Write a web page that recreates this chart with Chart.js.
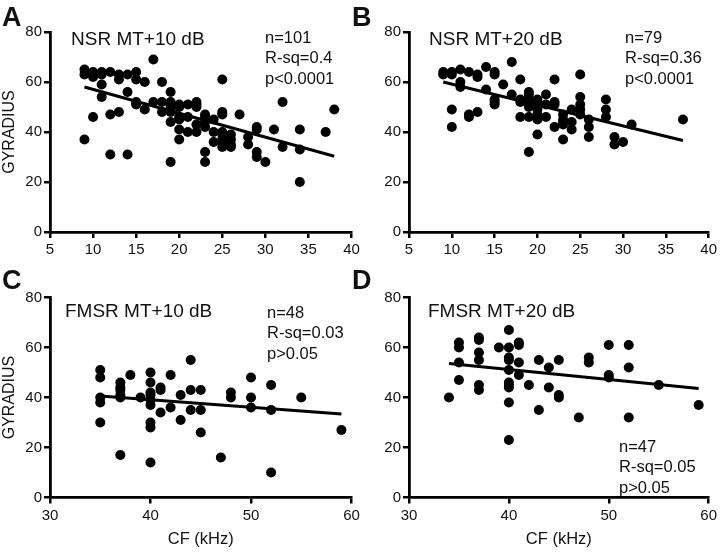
<!DOCTYPE html>
<html>
<head>
<meta charset="utf-8">
<script src="https://cdn.jsdelivr.net/npm/chart.js@4.4.1/dist/chart.umd.min.js"></script>
<style>
  body { margin: 0; background: #fff; }
  #wrap { position: relative; width: 720px; height: 555px; }
  #wrap canvas { position: absolute; left: 0; top: 0; }
</style>
</head>
<body>
<div id="wrap">
  <canvas id="panelA" width="720" height="555"></canvas>
  <canvas id="panelB" width="720" height="555"></canvas>
  <canvas id="panelC" width="720" height="555"></canvas>
  <canvas id="panelD" width="720" height="555"></canvas>
</div>
<script>
// tick values
const yTicks = [0, 20, 40, 60, 80];
const xTicksNSR = [5, 10, 15, 20, 25, 30, 35, 40];
const xTicksFMSR = [30, 40, 50, 60];

// NSR MT+10 dB  [CF kHz, GYRADIUS]
const nsr10 = [
  [9,65],[9,63],[9,37],[10,64],[10,62],[10,46],[11,64],[11,63],[11,59],[11,54],
  [12,64],[12,47],[12,31],[13,63],[13,61],[13,48],[14,63],[14,56],[14,31],
  [15,64],[15,61],[15,52],[15,51],[16,60],[16,49],[17,69],[17,52],
  [18,60],[18,52],[18,48],[19,56],[19,52],[19,50],[19,48],[19,44],[19,28],
  [20,51],[20,50],[20,46],[20,45],[20,41],[20,37],[21,51],[21,46],[21,40],
  [22,52],[22,51],[22,50],[22,43],[22,40],[23,47],[23,46],[23,44],[23,42],[23,32],[23,28],
  [24,45],[24,40],[24,36],[25,61],[25,48],[25,47],[25,40],[25,39],[25,37],[25,36],[25,34],
  [26,39],[26,37],[26,35],[26,34],[27,47],[28,38],[28,35],[29,42],[29,41],[29,32],[29,30],
  [30,28],[31,41],[32,52],[32,34],[34,41],[34,33],[34,20],[37,40],[38,49]
];
const nsr10Fit = [[9, 58], [38, 30.3]];

// NSR MT+20 dB
const nsr20 = [
  [9,64],[9,63],[10,64],[10,63],[10,49],[10,42],[11,65],[11,60],[11,58],
  [12,64],[12,47],[12,46],[13,63],[13,62],[13,48],[14,66],[14,57],
  [15,64],[15,63],[15,53],[15,52],[15,51],[16,59],[17,68],[17,55],
  [18,61],[18,53],[18,52],[18,46],[19,56],[19,55],[19,53],[19,51],[19,50],[19,46],[19,32],
  [20,53],[20,52],[20,49],[20,47],[20,45],[20,39],[21,55],[21,51],[21,46],
  [22,61],[22,52],[22,51],[22,42],[23,47],[23,45],[23,44],[23,43],[23,37],
  [24,49],[24,44],[24,41],[25,63],[25,54],[25,51],[25,49],[25,47],
  [26,45],[26,42],[26,38],[28,53],[28,49],[28,46],[29,38],[29,35],[30,36],[31,43],[37,45]
];
const nsr20Fit = [[9, 60], [37, 36.6]];

// FMSR MT+10 dB
const fmsr10 = [
  [35,51],[35,48],[35,40],[35,38],[35,30],[37,46],[37,44],[37,43],[37,41],[37,40],[37,17],
  [38,49],[39,40],[40,50],[40,46],[40,42],[40,41],[40,39],[40,37],[40,30],[40,28],[40,14],
  [41,44],[41,43],[41,34],[42,49],[42,36],[43,41],[43,31],[44,55],[44,43],[44,35],
  [45,43],[45,35],[45,26],[47,16],[48,42],[48,40],[50,48],[50,40],[50,36],
  [52,45],[52,35],[52,10],[55,40],[59,27]
];
const fmsr10Fit = [[35, 40.6], [59, 33.4]];

// FMSR MT+20 dB
const fmsr20 = [
  [34,40],[35,62],[35,60],[35,54],[35,47],[37,64],[37,63],[37,58],[37,55],[37,45],[37,43],
  [39,60],[40,67],[40,60],[40,56],[40,55],[40,51],[40,46],[40,45],[40,44],[40,38],[40,23],
  [41,62],[41,61],[41,54],[41,49],[42,45],[43,55],[43,35],[44,52],[44,44],
  [45,55],[45,41],[45,40],[47,32],[48,56],[48,54],[50,61],[50,49],[50,48],
  [52,61],[52,52],[52,32],[55,45],[59,37]
];
const fmsr20Fit = [[34, 53.6], [59, 43.6]];

const FONT = "'Liberation Sans', Arial, sans-serif";
const INK = '#111';

// draws the panel letter, condition label and stats as text
const panelText = {
  id: 'panelText',
  afterDraw(chart, args, opts) {
    const ctx = chart.ctx;
    ctx.save();
    ctx.fillStyle = INK;
    ctx.textAlign = 'left';
    ctx.textBaseline = 'alphabetic';
    ctx.font = 'bold 27px ' + FONT;
    ctx.fillText(opts.letter, opts.letterPos[0], opts.letterPos[1]);
    ctx.textBaseline = 'middle';
    ctx.font = '19px ' + FONT;
    ctx.fillText(opts.label, opts.labelPos[0], opts.labelPos[1]);
    ctx.font = '16.5px ' + FONT;
    opts.stats.forEach((s, i) => {
      ctx.fillText(s, opts.statsPos[0], opts.statsPos[1] + i * 20.5);
    });
    ctx.restore();
  }
};

function makePanel(id, p) {
  const yw = 50;
  const xh = p.xTitle ? 57.5 : 42;
  return new Chart(document.getElementById(id), {
    type: 'scatter',
    data: {
      datasets: [
        {
          data: p.points.map(d => ({ x: d[0], y: d[1] })),
          backgroundColor: '#000',
          borderWidth: 0,
          pointRadius: 5
        },
        {
          data: p.fit.map(d => ({ x: d[0], y: d[1] })),
          showLine: true,
          borderColor: '#000',
          borderWidth: 3,
          pointRadius: 0
        }
      ]
    },
    options: {
      responsive: false,
      animation: false,
      events: [],
      layout: {
        padding: {
          left: p.area[0] - yw,
          top: p.area[1],
          right: 720 - p.area[2],
          bottom: 555 - p.area[3] - xh
        }
      },
      plugins: {
        legend: { display: false },
        tooltip: { enabled: false },
        panelText: p.text
      },
      scales: {
        x: {
          type: 'linear',
          min: p.xTicks[0],
          max: p.xTicks[p.xTicks.length - 1],
          afterBuildTicks: s => { s.ticks = p.xTicks.map(v => ({ value: v })); },
          afterFit: s => { s.height = xh; },
          grid: { drawOnChartArea: false, tickLength: 6, color: '#000', lineWidth: 2.5 },
          border: { color: '#000', width: 2.8 },
          ticks: { color: INK, padding: 3, font: { size: 15, family: FONT } },
          title: {
            display: !!p.xTitle,
            text: p.xTitle || '',
            color: INK,
            font: { size: 16.5, family: FONT },
            padding: { top: 4, bottom: 6 }
          }
        },
        y: {
          min: 0,
          max: 80,
          afterBuildTicks: s => { s.ticks = yTicks.map(v => ({ value: v })); },
          afterFit: s => { s.width = yw; },
          grid: { drawOnChartArea: false, tickLength: 6, color: '#000', lineWidth: 2.5 },
          border: { color: '#000', width: 2.8 },
          ticks: { color: INK, padding: 2, font: { size: 15, family: FONT } },
          title: {
            display: !!p.yTitle,
            text: p.yTitle || '',
            color: INK,
            font: { size: 16, family: FONT },
            padding: { top: 0, bottom: 0 }
          }
        }
      }
    },
    plugins: [panelText]
  });
}

makePanel('panelA', {
  points: nsr10, fit: nsr10Fit, xTicks: xTicksNSR,
  area: [50, 32, 351.5, 232], yTitle: 'GYRADIUS',
  text: { letter: 'A', letterPos: [2, 26], label: 'NSR MT+10 dB', labelPos: [71, 40],
          stats: ['n=101', 'R-sq=0.4', 'p<0.0001'], statsPos: [265, 38] }
});
makePanel('panelB', {
  points: nsr20, fit: nsr20Fit, xTicks: xTicksNSR,
  area: [409, 32, 709, 232],
  text: { letter: 'B', letterPos: [352, 26], label: 'NSR MT+20 dB', labelPos: [429, 40],
          stats: ['n=79', 'R-sq=0.36', 'p<0.0001'], statsPos: [625, 38] }
});
makePanel('panelC', {
  points: fmsr10, fit: fmsr10Fit, xTicks: xTicksFMSR,
  area: [50, 297.5, 351.5, 497.5], yTitle: 'GYRADIUS', xTitle: 'CF (kHz)',
  text: { letter: 'C', letterPos: [2, 289], label: 'FMSR MT+10 dB', labelPos: [65, 312],
          stats: ['n=48', 'R-sq=0.03', 'p>0.05'], statsPos: [267, 313] }
});
makePanel('panelD', {
  points: fmsr20, fit: fmsr20Fit, xTicks: xTicksFMSR,
  area: [409, 297.5, 709, 497.5], xTitle: 'CF (kHz)',
  text: { letter: 'D', letterPos: [352, 289], label: 'FMSR MT+20 dB', labelPos: [428, 312],
          stats: ['n=47', 'R-sq=0.05', 'p>0.05'], statsPos: [619, 447] }
});
</script>
</body>
</html>
